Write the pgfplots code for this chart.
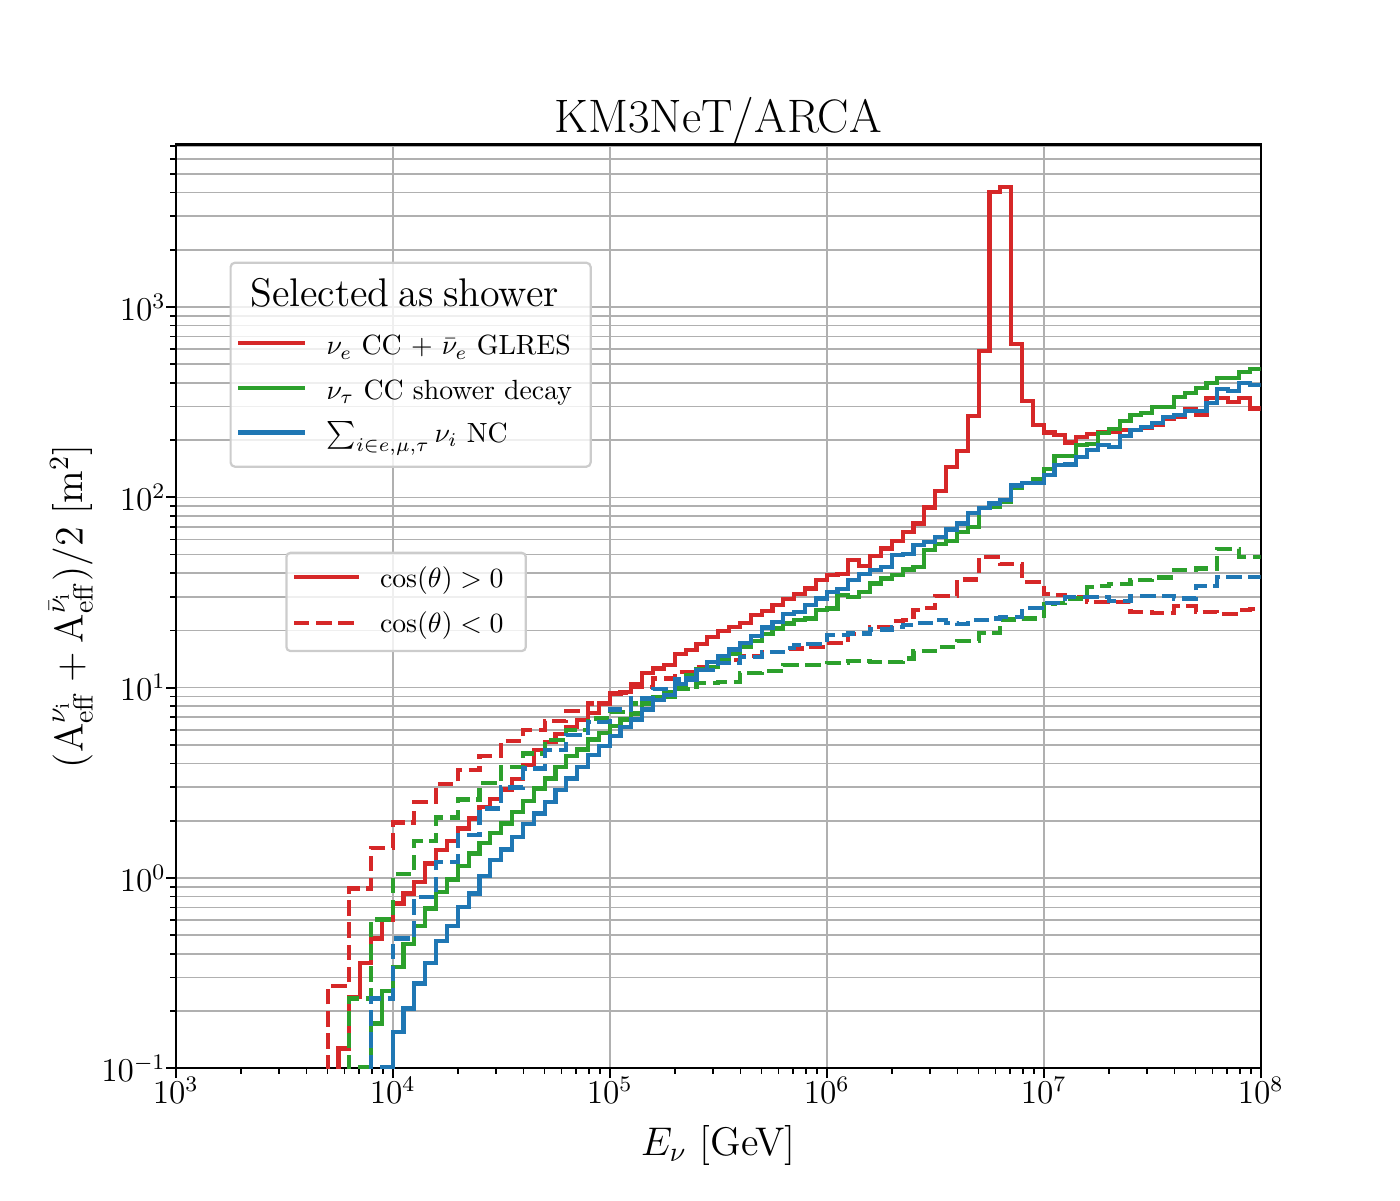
\documentclass[border=0pt]{standalone}
\usepackage{pgfplots}
\usepackage{pgfplotstable}
\pgfplotsset{compat=1.18}
\definecolor{tabred}{HTML}{D62728}
\definecolor{tabgreen}{HTML}{2CA02C}
\definecolor{tabblue}{HTML}{1F77B4}
\definecolor{gridgray}{HTML}{B0B0B0}
\definecolor{legedge}{HTML}{CCCCCC}

% bin left edges (log10 E/GeV) and bin contents
\pgfplotstableread{
lx rs gs bs rd gd bd
3.65 0.01 0.01 0.01 0.01 0.01 0.01
3.70 0.01 0.01 0.01 0.271 0.01 0.01
3.75 0.127 0.01 0.01 0.271 0.01 0.01
3.80 0.237 0.01 0.01 0.880 0.2325 0.01
3.85 0.358 0.102 0.01 0.880 0.2325 0.01
3.90 0.481 0.172 0.01 1.438 0.605 0.2325
3.95 0.600 0.255 0.102 1.438 0.605 0.2325
4.00 0.734 0.341 0.155 1.956 1.047 0.481
4.05 0.829 0.449 0.206 1.956 1.047 0.481
4.10 0.953 0.560 0.279 2.510 1.561 0.795
4.15 1.191 0.691 0.358 2.510 1.561 0.795
4.20 1.399 0.845 0.467 3.129 2.078 1.214
4.25 1.561 0.982 0.560 3.129 2.078 1.214
4.30 1.819 1.160 0.705 3.685 2.585 1.688
4.35 2.053 1.344 0.829 3.685 2.585 1.688
4.40 2.354 1.529 1.021 4.364 3.159 2.318
4.45 2.594 1.725 1.240 4.364 3.159 2.318
4.50 2.917 1.933 1.411 5.252 3.834 2.988
4.55 3.313 2.225 1.643 5.252 3.834 2.988
4.60 3.915 2.541 1.917 5.978 4.510 3.761
4.65 4.694 2.953 2.182 5.978 4.510 3.761
4.70 5.171 3.333 2.510 6.69 5.297 4.694
4.75 5.696 3.834 2.893 6.69 5.297 4.694
4.80 6.20 4.365 3.333 7.52 5.978 5.628
4.85 6.75 4.735 3.834 7.52 5.978 5.628
4.90 7.35 5.343 4.418 8.26 6.89 6.59
4.95 8.26 5.788 4.927 8.26 6.89 6.59
5.00 9.32 6.314 5.562 9.36 7.43 7.68
5.05 9.51 6.81 6.223 9.36 7.43 7.68
5.10 10.39 7.32 6.81 10.1 8.26 8.78
5.15 11.96 8.26 7.68 10.1 8.26 8.78
5.20 12.62 8.92 8.60 11.18 8.92 9.79
5.25 13.13 9.47 9.13 11.18 8.92 9.79
5.30 15.00 9.90 10.43 12.11 9.79 11.04
5.35 15.74 11.63 11.18 12.11 9.79 11.04
5.40 16.93 12.47 12.36 12.86 10.56 12.36
5.45 18.49 12.86 13.67 12.86 10.56 12.36
5.50 19.89 14.24 14.64 13.95 10.73 13.41
5.55 20.87 15.00 15.88 13.95 10.73 13.41
5.60 21.83 16.33 17.24 14.64 11.92 14.52
5.65 24.05 17.67 18.65 14.64 11.92 14.52
5.70 25.33 19.10 20.72 15.37 12.21 15.43
5.75 27.14 20.47 22.18 15.37 12.21 15.43
5.80 29.19 21.75 24.34 16.07 13.13 16.13
5.85 30.90 22.63 25.03 16.07 13.13 16.73
5.90 33.21 23.11 27.14 16.33 13.13 16.92
5.95 36.74 25.55 29.43 16.33 13.13 16.92
6.00 39.02 26.08 31.89 17.20 13.50 18.88
6.05 39.50 30.64 32.83 17.20 13.50 18.88
6.10 46.8 29.80 36.74 19.10 13.83 19.27
6.15 43.5 31.89 39.50 19.10 13.83 19.27
6.20 49.1 35.29 41.46 20.87 13.67 20.23
6.25 53.9 37.50 42.84 20.87 13.67 20.23
6.30 59.1 39.02 49.71 22.44 13.67 20.87
6.35 65.9 41.8 50.3 22.6 14.24 21.3
6.40 72.9 43.2 56.1 25.6 15.61 21.9
6.45 88.5 52.8 58.4 26.1 15.6 21.9
6.50 108 56.6 61.6 30.4 16.3 22.6
6.55 145 59.1 67.8 30.4 16.3 21.9
6.60 176 65.9 72.9 37.0 17.6 21.6
6.65 268 70.0 83.0 37.0 17.6 22.6
6.70 589 88.2 88.2 48.7 19.3 22.6
6.75 4036 89.2 92.9 48.7 19.3 23.1
6.80 4257 94.8 96.7 44.6 22.8 23.4
6.85 639 111.4 115.5 44.6 22.8 23.4
6.90 322 119.3 119.3 36.0 23.1 26.1
6.95 240 124.2 119.3 36.0 23.1 26.1
7.00 219 140.2 130.9 31.0 27.5 27.9
7.05 212 164.8 147.7 30.6 27.9 27.9
7.10 194 164.8 148.9 30.0 29.4 30.0
7.15 208 188.2 163.4 30.0 29.4 30.0
7.20 215 190.5 177.2 28.3 33.9 30.0
7.25 219 218.6 188.2 28.3 34.2 30.0
7.30 221 227.5 184.5 28.3 35.0 28.6
7.35 226 252.7 209.8 28.3 35.0 28.6
7.40 226 270.6 225.7 25.0 36.7 30.4
7.45 233 278.4 235.0 25.0 36.7 30.4
7.50 240 299.3 246.6 24.7 37.9 30.4
7.55 257 296.9 263.1 24.7 37.9 30.4
7.60 263 337.9 270.6 26.8 41.5 29.4
7.65 290 354.6 285.2 26.8 41.5 29.4
7.70 271 373.7 285.2 25.0 42.3 34.2
7.75 331 397.0 311.6 25.0 42.3 34.2
7.80 331 421.7 369.2 24.3 53.7 38.2
7.85 318 425.2 363.2 24.3 53.7 38.2
7.90 331 457.2 397.0 25.6 48.7 38.2
7.95 293 470.4 389.0 25.8 48.7 38.2
8.00 293 470.4 389.0 25.8 48.7 38.2
}\histdata

\pgfplotsset{
  hist/.style={const plot, line width=1.5pt, forget plot},
  dsh/.style={dash pattern=on 5.55pt off 2.4pt},
}

\begin{document}
\begin{tikzpicture}
\useasboundingbox (0,0) rectangle (504pt,432pt);
\begin{axis}[
  at={(63.25pt,47.41pt)}, anchor=south west,
  width=390.6pt, height=332.6pt, scale only axis,
  xmode=log, ymode=log,
  xmin=1e3, xmax=1e8, ymin=0.1, ymax=7150,
  xtick={1e3,1e4,1e5,1e6,1e7,1e8},
  ytick={0.1,1,10,100,1000},
  minor xtick={2e3,3e3,4e3,5e3,6e3,7e3,8e3,9e3,2e4,3e4,4e4,5e4,6e4,7e4,8e4,9e4,2e5,3e5,4e5,5e5,6e5,7e5,8e5,9e5,2e6,3e6,4e6,5e6,6e6,7e6,8e6,9e6,2e7,3e7,4e7,5e7,6e7,7e7,8e7,9e7},
  minor ytick={0.2,0.3,0.4,0.5,0.6,0.7,0.8,0.9,2,3,4,5,6,7,8,9,20,30,40,50,60,70,80,90,200,300,400,500,600,700,800,900,2000,3000,4000,5000,6000,7000},
  tick pos=left, tick align=outside,
  major tick length=3.5pt, minor tick length=2pt,
  tick style={black, line width=0.8pt},
  minor tick style={line width=0.6pt},
  xmajorgrids, ymajorgrids, yminorgrids,
  grid style={gridgray, line width=0.6pt},
  major grid style={gridgray, line width=0.6pt},
  minor grid style={gridgray, line width=0.6pt},
  axis line style={line width=0.8pt},
  tick label style={font=\fontsize{12}{14}\selectfont},
  xticklabel style={yshift=4pt},
  yticklabel style={xshift=3.4pt},
  every axis title/.style={at={(axis description cs:0.5,1.0125)}, anchor=base, font=\fontsize{16.9}{20}\selectfont},
  title={KM3NeT/ARCA},
  every axis x label/.style={at={(axis description cs:0.5,-0.0943)}, anchor=base, font=\fontsize{14.4}{17}\selectfont},
  every axis y label/.style={at={(axis description cs:-0.0857,0.5)}, rotate=90, anchor=base, font=\fontsize{14.4}{17}\selectfont},
  xlabel={$E_\nu$ [GeV]},
  ylabel={$(\mathrm{A}_{\mathrm{eff}}^{\nu_{\mathrm{i}}} + \mathrm{A}_{\mathrm{eff}}^{\bar{\nu}_{\mathrm{i}}})/2$ [m$^2$]},
  legend style={
    at={(axis description cs:0.0496,0.8731)}, anchor=north west,
    draw=legedge, line width=0.8pt, rounded corners=1.5pt,
    fill=white, fill opacity=0.8, text opacity=1, draw opacity=1,
    inner xsep=2pt, inner ysep=1pt,
    row sep=0pt, column sep=7.1pt,
    font=\fontsize{10}{12}\selectfont,
    nodes={inner sep=0pt, text depth=, text height=, text width=93pt, align=left},
  },
  legend cell align=left,
  legend image code/.code={\draw[#1] (0pt,0pt) -- (24pt,0pt);},
]
\addlegendimage{empty legend}
\addlegendentry{\mbox{\hspace*{-27.5pt}{\fontsize{14.4}{17}\selectfont Selected as shower}\rule[-5.16pt]{0pt}{20pt}}}
\addlegendimage{tabred, line width=1.5pt}
\addlegendentry{\mbox{$\nu_e$ CC + $\bar{\nu}_e$ GLRES\rule[-3.8pt]{0pt}{16pt}}}
\addlegendimage{tabgreen, line width=1.5pt}
\addlegendentry{\mbox{$\nu_\tau$ CC shower decay\rule[-3.8pt]{0pt}{16pt}}}
\addlegendimage{tabblue, line width=1.5pt, yshift=1.6pt}
\addlegendentry{\mbox{$\sum_{i\in e,\mu,\tau}\nu_i$ NC\rule[-7.6pt]{0pt}{19.4pt}}}

\addplot[hist, tabred] table[x expr={10^(\thisrow{lx})}, y=rs] {\histdata};
\addplot[hist, tabred, dsh] table[x expr={10^(\thisrow{lx})}, y=rd] {\histdata};
\addplot[hist, tabgreen] table[x expr={10^(\thisrow{lx})}, y=gs] {\histdata};
\addplot[hist, tabgreen, dsh] table[x expr={10^(\thisrow{lx})}, y=gd] {\histdata};
\addplot[hist, tabblue] table[x expr={10^(\thisrow{lx})}, y=bs] {\histdata};
\addplot[hist, tabblue, dsh] table[x expr={10^(\thisrow{lx})}, y=bd] {\histdata};
\end{axis}

\begin{axis}[
  at={(63.25pt,47.41pt)}, anchor=south west,
  width=390.6pt, height=332.6pt, scale only axis,
  hide axis, xmin=0, xmax=1, ymin=0, ymax=1,
  legend style={
    at={(axis description cs:0.1010,0.5592)}, anchor=north west,
    draw=legedge, line width=0.8pt, rounded corners=1.5pt,
    fill=white, fill opacity=0.8, text opacity=1, draw opacity=1,
    inner xsep=2pt, inner ysep=1pt,
    row sep=0pt, column sep=6.9pt,
    font=\fontsize{10}{12}\selectfont,
    nodes={inner sep=0pt, text depth=, text height=, text width=50.5pt, align=left},
  },
  legend cell align=left,
  legend image code/.code={\draw[#1] (0pt,0pt) -- (23.3pt,0pt);},
]
\addplot[draw=none, forget plot] coordinates {(0.5,0.5)};
\addlegendimage{tabred, line width=1.5pt}
\addlegendentry{\mbox{$\cos(\theta) > 0$\rule[-3.95pt]{0pt}{15.3pt}}}
\addlegendimage{tabred, line width=1.5pt, dsh}
\addlegendentry{\mbox{$\cos(\theta) < 0$\rule[-5.6pt]{0pt}{18.1pt}}}
\end{axis}
\end{tikzpicture}
\end{document}
